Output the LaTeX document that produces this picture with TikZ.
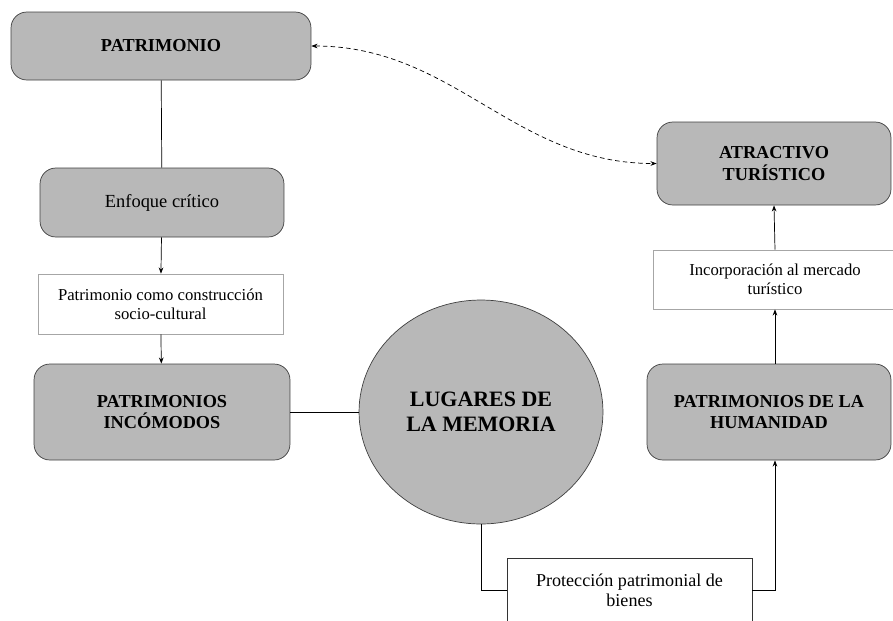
\documentclass[tikz,border=0pt]{standalone}
\usepackage{fontspec}
\setmainfont{Liberation Serif}
\usetikzlibrary{arrows.meta,shapes.geometric}
\tikzset{
  grisbox/.style={draw=black!75,fill=black!28,rounded corners=9pt,align=center,font=\bfseries\fontsize{10.4}{12}\selectfont,inner sep=2pt},
  notabox/.style={draw=black!35,fill=white,align=center,font=\fontsize{9.5}{11}\selectfont,inner sep=2pt},
}
\begin{document}
\begin{tikzpicture}[x=0.02cm,y=-0.02cm,thin,>={Stealth[length=3.5pt,width=2.6pt]}]
            \clip(0,0)rectangle(893,620);
            \useasboundingbox(0,0)rectangle(893,620);
            \node[grisbox,minimum width=6cm,minimum height=1.36cm](patr)at(161,46){PATRIMONIO};
            \node[grisbox,font=\fontsize{10.5}{12}\selectfont,minimum width=4.88cm,minimum height=1.38cm](enfoque)at(162,202.5){Enfoque crítico};
            \node[notabox,minimum width=4.9cm,minimum height=1.2cm](constr)at(160.5,304){Patrimonio como construcción\\socio-cultural};
            \node[grisbox,minimum width=5.12cm,minimum height=1.92cm](incom)at(162,412){PATRIMONIOS\\INCÓMODOS};
            \node[ellipse,draw=black!75,fill=black!28,align=center,font=\bfseries\fontsize{12.5}{14.2}\selectfont,minimum width=4.88cm,minimum height=4.48cm,inner sep=0pt](lugares)at(481,412){LUGARES DE\\LA MEMORIA};
            \node[grisbox,minimum width=4.88cm,minimum height=1.92cm](human)at(769,412){PATRIMONIOS DE LA\\HUMANIDAD};
            \node[notabox,minimum width=4.88cm,minimum height=1.18cm](incorp)at(775,279.5){Incorporación al mercado\\turístico};
            \node[grisbox,minimum width=4.68cm,minimum height=1.66cm](atract)at(774,163.5){ATRACTIVO\\TURÍSTICO};
            \node[notabox,draw=black!80,font=\fontsize{10.3}{11.5}\selectfont,minimum width=4.9cm,minimum height=1.28cm](protec)at(629.5,590){Protección patrimonial de\\bienes};
            \draw(patr)--(enfoque);
            \draw[->](enfoque)--(constr);
            \draw[->](constr)--(incom);
            \draw(incom)--(lugares);
            \draw(lugares.south)|-(protec.west);
            \draw[->](protec.east)-|(incorp.south|-human.south);
            \draw[->](incorp.south|-human.north)--(incorp.south);
            \draw[->](incorp.north)--(atract.south);
            \draw[<->,dash pattern=on 2.6pt off 1.8pt](patr.east)to[out=0,in=180](atract.west);
        \end{tikzpicture}
\end{document}
